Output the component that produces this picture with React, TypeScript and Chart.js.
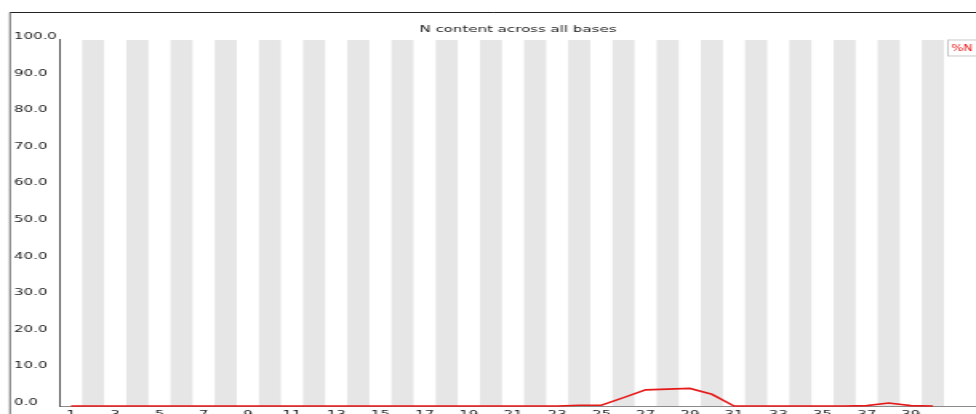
import React, { useEffect, useRef } from "react";
import { Chart, registerables } from "chart.js";

Chart.register(...registerables);

// ---- data ----
const TITLE = "N content across all bases";
const SERIES_LABEL = "%N";
const bases = [
  1, 2, 3, 4, 5, 6, 7, 8, 9, 10, 11, 12, 13, 14, 15, 16, 17, 18, 19, 20,
  21, 22, 23, 24, 25, 26, 27, 28, 29, 30, 31, 32, 33, 34, 35, 36, 37, 38, 39, 40,
];
const nPercent = [
  0, 0, 0, 0, 0, 0, 0, 0, 0, 0, 0, 0, 0, 0, 0, 0, 0, 0, 0, 0,
  0, 0, 0, 0.2, 0.2, 2.3, 4.4, 4.6, 4.8, 3.2, 0, 0, 0, 0, 0, 0, 0.1, 0.8, 0.1, 0,
];
const xTickLabels = [1, 3, 5, 7, 9, 11, 13, 15, 17, 19, 21, 23, 25, 27, 29, 31, 33, 35, 37, 39];
const yTickLabels = [0, 10, 20, 30, 40, 50, 60, 70, 80, 90, 100];

// ---- layout / style ----
const SX = 1.6; // horizontal stretch of the original image
const CSS_W = 976;
const CANVAS_W = Math.round(CSS_W / SX); // 610
const CANVAS_H = 426;
const FONT = "'DejaVu Sans', sans-serif";
const PAD_LEFT = 14 / SX;
const AXIS_LEFT = 60 / SX;
const COL_W = 22.1 / SX;
const X_MAX = 0.5 + (CANVAS_W - AXIS_LEFT) / COL_W;

const stripesPlugin = {
  id: "stripes",
  beforeDatasetsDraw(chart: any) {
    const { ctx, chartArea } = chart;
    const xs = chart.scales.x;
    ctx.save();
    ctx.fillStyle = "#e6e6e6";
    bases.forEach((b, i) => {
      if (i % 2 === 1) {
        const l = xs.getPixelForValue(b - 0.5);
        const r = xs.getPixelForValue(b + 0.5);
        ctx.fillRect(l, chartArea.top, r - l, chartArea.bottom - chartArea.top);
      }
    });
    ctx.restore();
  },
};

const framePlugin = {
  id: "frame",
  afterDraw(chart: any) {
    const { ctx } = chart;
    const left = 10 / SX;
    const top = 12.5;
    ctx.save();
    ctx.strokeStyle = "#222";
    ctx.lineWidth = 1;
    ctx.beginPath();
    ctx.moveTo(left, top);
    ctx.lineTo(chart.width, top);
    ctx.stroke();
    ctx.lineWidth = 0.7;
    ctx.beginPath();
    ctx.moveTo(left, top);
    ctx.lineTo(left, chart.height);
    ctx.stroke();
    ctx.restore();
  },
};

const legendPlugin = {
  id: "legendBox",
  afterDraw(chart: any) {
    const { ctx, chartArea } = chart;
    const x = chartArea.right - 17.5;
    const y = chartArea.top;
    ctx.save();
    ctx.fillStyle = "#fff";
    ctx.fillRect(x, y, 24, 16);
    ctx.strokeStyle = "#c8c8c8";
    ctx.lineWidth = 1;
    ctx.strokeRect(x, y, 24, 16);
    ctx.fillStyle = "rgb(235,30,30)";
    ctx.font = `8px ${FONT}`;
    ctx.textBaseline = "middle";
    ctx.textAlign = "left";
    ctx.fillText(chart.data.datasets[0].label, x + 2, y + 9);
    ctx.restore();
  },
};

export default function App() {
  const ref = useRef<HTMLCanvasElement | null>(null);

  useEffect(() => {
    if (!ref.current) return;
    const chart = new Chart(ref.current, {
      type: "line",
      data: {
        datasets: [
          {
            label: SERIES_LABEL,
            data: bases.map((b, i) => ({ x: b, y: nPercent[i] })),
            borderColor: "rgb(230,25,25)",
            backgroundColor: "rgb(230,25,25)",
            borderWidth: 1.6,
            pointRadius: 0,
            tension: 0,
            clip: false as any,
          },
        ],
      },
      options: {
        responsive: false,
        animation: false,
        devicePixelRatio: 1,
        layout: { padding: { left: PAD_LEFT, top: 12, right: 0, bottom: 0 } },
        plugins: {
          legend: { display: false },
          tooltip: { enabled: false },
          title: {
            display: true,
            text: TITLE,
            fullSize: false,
            color: "#222",
            font: { family: FONT, size: 9.4, weight: "normal" },
            padding: { top: 11.5, bottom: 5.2 },
          },
        },
        scales: {
          x: {
            type: "linear",
            min: 0.5,
            max: X_MAX,
            grid: { display: false, drawTicks: false, tickLength: 0 },
            border: { display: true, color: "#8a8a8a", width: 1 },
            afterBuildTicks: (s: any) => {
              s.ticks = xTickLabels.map((v) => ({ value: v }));
            },
            afterFit: (s: any) => {
              s.height = CANVAS_H - 406;
            },
            ticks: {
              autoSkip: false,
              maxRotation: 0,
              padding: 3,
              color: "#222",
              font: { family: FONT, size: 9.4 },
              callback: (v: any) => String(v),
            },
          },
          y: {
            type: "linear",
            min: 0,
            max: 100,
            grid: { display: false, drawTicks: false, tickLength: 0 },
            border: { display: true, color: "#555", width: 1 },
            afterBuildTicks: (s: any) => {
              s.ticks = yTickLabels.map((v) => ({ value: v }));
            },
            afterFit: (s: any) => {
              s.width = AXIS_LEFT - PAD_LEFT;
            },
            ticks: {
              crossAlign: "far",
              padding: 0,
              color: "#222",
              font: { family: FONT, size: 9.4, lineHeight: 0.75 },
              callback: (v: any) => [Number(v).toFixed(1), ""],
            },
          },
        },
      },
      plugins: [stripesPlugin, framePlugin, legendPlugin],
    });
    return () => chart.destroy();
  }, []);

  return (
    <div
      style={{
        position: "absolute",
        left: 0,
        top: 0,
        width: CSS_W,
        height: 414,
        overflow: "hidden",
        background: "#fff",
      }}
    >
      <canvas
        ref={ref}
        width={CANVAS_W}
        height={CANVAS_H}
        style={{ width: CSS_W + "px", height: CANVAS_H + "px", display: "block" }}
      />
    </div>
  );
}
